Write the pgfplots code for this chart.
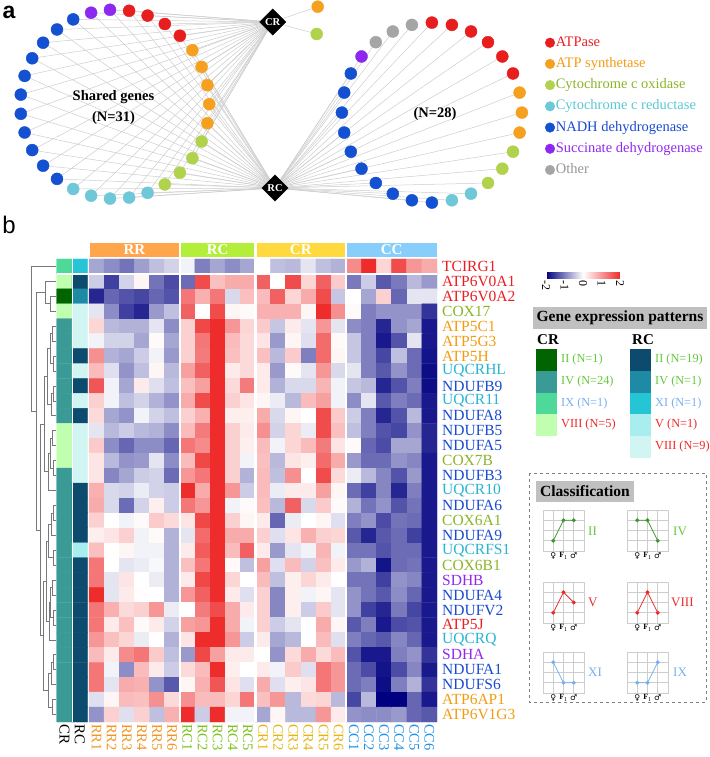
\documentclass[border=0pt]{standalone}
\usepackage{pgfplots}
\pgfplotsset{compat=1.18}
\usepackage{pgfplotstable}
\usetikzlibrary{calc}
\usepackage{fontspec}
\setmainfont{Liberation Serif}
\newfontfamily\sansf{Liberation Sans}
\newfontfamily\symf{DejaVu Sans}
\newcommand{\fs}[1]{\fontsize{#1}{#1}\selectfont}

% network / category colours
\definecolor{nred}{RGB}{232,30,30}
\definecolor{norange}{RGB}{245,160,30}
\definecolor{ngreen}{RGB}{176,210,76}
\definecolor{ncyan}{RGB}{110,200,215}
\definecolor{nblue}{RGB}{20,80,210}
\definecolor{npurple}{RGB}{140,40,240}
\definecolor{ngray}{RGB}{165,165,165}
\definecolor{edgegray}{RGB}{205,205,205}
\definecolor{tred}{RGB}{235,30,35}
\definecolor{torange}{RGB}{243,156,18}
\definecolor{tgreen}{RGB}{140,180,40}
\definecolor{tcyan}{RGB}{40,180,210}
\definecolor{lcyan}{RGB}{90,200,210}
\definecolor{tblue}{RGB}{25,75,210}
\definecolor{tpurple}{RGB}{145,40,240}
\definecolor{tgray}{RGB}{150,150,150}
% heatmap group colours
\definecolor{hRR}{RGB}{255,166,77}
\definecolor{hRC}{RGB}{179,238,58}
\definecolor{hCR}{RGB}{255,217,61}
\definecolor{hCC}{RGB}{135,206,250}
\definecolor{lRR}{RGB}{243,146,30}
\definecolor{lRC}{RGB}{125,194,30}
\definecolor{lCR}{RGB}{230,180,20}
\definecolor{lCC}{RGB}{30,144,230}
% pattern colours
\definecolor{crII}{RGB}{0,100,0}
\definecolor{crIV}{RGB}{58,154,150}
\definecolor{crIX}{RGB}{78,217,154}
\definecolor{crVIII}{RGB}{193,255,176}
\definecolor{rcII}{RGB}{12,74,110}
\definecolor{rcIV}{RGB}{30,138,165}
\definecolor{rcXI}{RGB}{37,197,213}
\definecolor{rcV}{RGB}{168,238,238}
\definecolor{rcVIII}{RGB}{209,245,243}
\definecolor{pgreen}{RGB}{100,200,60}
\definecolor{mgreen}{RGB}{60,150,45}
\definecolor{pred}{RGB}{240,40,40}
\definecolor{pblue}{RGB}{120,175,240}
\definecolor{boxgray}{RGB}{192,192,192}
\definecolor{gridgray}{RGB}{205,205,205}
\definecolor{dendro}{RGB}{120,120,120}

% nodes of the network (panel a)
\pgfplotstableread{
x y c
209.3 104.2 o
207.4 85.2 o
201.6 66.9 o
192.4 50.2 o
179.9 35.7 r
164.8 24.0 r
147.6 15.6 r
129.1 10.8 r
110.0 9.8 p
91.1 12.7 p
73.2 19.4 b
57.0 29.5 b
43.1 42.7 b
32.2 58.3 b
24.6 75.9 b
20.8 94.6 b
20.8 113.8 b
24.6 132.5 b
32.2 150.1 b
43.1 165.7 b
57.0 178.9 b
73.2 189.0 c
91.1 195.7 c
110.0 198.6 c
129.1 197.6 c
147.6 192.8 c
164.8 184.4 g
179.9 172.7 g
192.4 158.2 g
201.6 141.5 g
207.4 123.2 o
}\leftnodes

\pgfplotstableread{
x y c
521.9 112.6 o
519.6 92.6 o
513.0 73.5 r
502.3 56.5 r
488.0 42.2 r
471.0 31.5 r
451.9 24.9 r
431.9 22.6 r
411.9 24.9 k
392.8 31.5 k
375.8 42.2 k
361.5 56.5 p
350.8 73.5 b
344.2 92.6 b
341.9 112.6 b
344.2 132.6 b
350.8 151.7 b
361.5 168.7 b
375.8 183.0 b
392.8 193.7 b
411.9 200.3 b
431.9 202.6 b
451.9 200.3 c
471.0 193.7 c
488.0 183.0 g
502.3 168.7 g
513.0 151.7 g
519.6 132.6 o
}\rightnodes

\pgfplotstableread{
x y c
317.7 6.7 o
316.7 34.0 g
}\crnodes

\pgfplotstableread{
x y lab
272.7 22 CR
275 188 RC
}\hubs

\pgfplotsset{
  netclasses/.style={scatter/classes={
    r={mark=*,draw=nred,fill=nred},
    o={mark=*,draw=norange,fill=norange},
    g={mark=*,draw=ngreen,fill=ngreen},
    c={mark=*,draw=ncyan,fill=ncyan},
    b={mark=*,draw=nblue,fill=nblue},
    p={mark=*,draw=npurple,fill=npurple},
    k={mark=*,draw=ngray,fill=ngray}}},
  mini/.style={scale only axis, width=41pt, height=41pt, anchor=south west,
    xmin=0, xmax=4, ymin=0, ymax=4,
    xtick={0,1,2,3,4}, ytick={0,1,2,3,4}, yticklabels={},
    xticklabels={,{\symf\fs{8}♀},{\fs{8}\textbf{F}\textsubscript{1}},{\symf\fs{8}♂},},
    xticklabel style={inner sep=1.5pt},
    grid=major, grid style={draw=gridgray, line width=0.6pt},
    axis line style={draw=gridgray, line width=0.6pt},
    major tick length=0pt},
  miniline/.style={line width=0.8pt, mark=*, mark size=1.6pt},
}

\begin{document}
\begin{tikzpicture}[x=1pt,y=1pt]
\useasboundingbox (0,0) rectangle (709,757);

% ---------------- panel a : network ----------------
\begin{axis}[at={(0pt,757pt)}, anchor=north west, scale only axis,
  width=709pt, height=215pt, xmin=0, xmax=709, ymin=0, ymax=215,
  y dir=reverse, hide axis, clip=false,
  legend style={at={(0.7687,0.837)}, anchor=north west, draw=none, fill=none,
    inner sep=0pt, row sep=6.2pt, font=\fs{14.5},
    nodes={inner sep=1pt, text height=10pt, text depth=3pt}},
  legend cell align=left,
  legend image code/.code={\draw[mark repeat=2,mark phase=2,#1]
    plot coordinates {(0pt,0pt) (5pt,0pt) (10pt,0pt)};}]
\addlegendimage{only marks, mark=*, mark size=4.8pt, nred}
\addlegendentry{\textcolor{tred}{ATPase}}
\addlegendimage{only marks, mark=*, mark size=4.8pt, norange}
\addlegendentry{\textcolor{torange}{ATP synthetase}}
\addlegendimage{only marks, mark=*, mark size=4.8pt, ngreen}
\addlegendentry{\textcolor{tgreen}{Cytochrome c oxidase}}
\addlegendimage{only marks, mark=*, mark size=4.8pt, ncyan}
\addlegendentry{\textcolor{lcyan}{Cytochrome c reductase}}
\addlegendimage{only marks, mark=*, mark size=4.8pt, nblue}
\addlegendentry{\textcolor{tblue}{NADH dehydrogenase}}
\addlegendimage{only marks, mark=*, mark size=4.8pt, npurple}
\addlegendentry{\textcolor{tpurple}{Succinate dehydrogenase}}
\addlegendimage{only marks, mark=*, mark size=4.8pt, ngray}
\addlegendentry{\textcolor{tgray}{Other}}

% edges
\addplot[forget plot, edgegray, line width=0.5pt,
  quiver={u=272.7-\thisrow{x}, v=22-\thisrow{y}}] table {\leftnodes};
\addplot[forget plot, edgegray, line width=0.5pt,
  quiver={u=275-\thisrow{x}, v=188-\thisrow{y}}] table {\leftnodes};
\addplot[forget plot, edgegray, line width=0.5pt,
  quiver={u=275-\thisrow{x}, v=188-\thisrow{y}}] table {\rightnodes};
\addplot[forget plot, edgegray, line width=0.5pt,
  quiver={u=272.7-\thisrow{x}, v=22-\thisrow{y}}] table {\crnodes};
% nodes
\addplot[forget plot, scatter, only marks, mark size=6pt, netclasses,
  scatter src=explicit symbolic] table[meta=c] {\leftnodes};
\addplot[forget plot, scatter, only marks, mark size=6pt, netclasses,
  scatter src=explicit symbolic] table[meta=c] {\rightnodes};
\addplot[forget plot, scatter, only marks, mark size=6pt, netclasses,
  scatter src=explicit symbolic] table[meta=c] {\crnodes};
% hubs
\addplot[forget plot, only marks, mark=square*, mark size=9.3pt, black,
  every mark/.append style={rotate=45},
  point meta=explicit symbolic, nodes near coords,
  every node near coord/.append style={anchor=center, text=white,
    font=\bfseries\fs{10.5}}] table[meta=lab] {\hubs};

\node[font=\bfseries\fontsize{14.5}{21}\selectfont, align=center]
  at (axis cs:113.5,107.5) {Shared genes\\(N=31)};
\node[font=\bfseries\fs{14.5}] at (axis cs:435,114) {(N=28)};
\end{axis}

\node[font=\sansf\bfseries\fs{23}] at (9,745) {a};
\node[font=\sansf\fs{24}] at (9,532) {b};

% ---------------- panel b : dendrogram ----------------
\begin{axis}[at={(29pt,35pt)}, anchor=south west, scale only axis,
  width=28pt, height=463pt, xmin=29, xmax=57, ymin=0.5, ymax=31.5,
  y dir=reverse, hide axis, clip=false, unbounded coords=jump]
\addplot[dendro, line width=0.7pt] coordinates {
(56,1)(31,1)(31,10.695)(36,10.695) (56,nan)
(45,2.75)(36,2.75)(36,18.64)(40,18.64) (56,nan)
(56,2)(45,2)(45,3.5)(50,3.5) (56,nan)
(56,3)(50,3)(50,4)(56,4) (56,nan)
(44,11.5625)(40,11.5625)(40,25.719)(43,25.719) (56,nan)
(47,8.375)(44,8.375)(44,14.75)(48,14.75) (56,nan)
(50,6.5)(47,6.5)(47,10.25)(51,10.25) (56,nan)
(52,5.5)(50,5.5)(50,7.5)(53,7.5) (56,nan)
(56,5)(52,5)(52,6)(56,6) (56,nan)
(56,7)(53,7)(53,8)(56,8) (56,nan)
(53,9.5)(51,9.5)(51,11)(56,11) (56,nan)
(56,9)(53,9)(53,10)(56,10) (56,nan)
(50,13.5)(48,13.5)(48,16)(56,16) (56,nan)
(52,12.5)(50,12.5)(50,14.5)(53,14.5) (56,nan)
(56,12)(52,12)(52,13)(56,13) (56,nan)
(56,14)(53,14)(53,15)(56,15) (56,nan)
(46,22.0625)(43,22.0625)(43,29.375)(48,29.375) (56,nan)
(48,19.375)(46,19.375)(46,24.75)(49,24.75) (56,nan)
(51,18.25)(48,18.25)(48,20.5)(53,20.5) (56,nan)
(53,17.5)(51,17.5)(51,19)(56,19) (56,nan)
(56,17)(53,17)(53,18)(56,18) (56,nan)
(56,20)(53,20)(53,21)(56,21) (56,nan)
(50,23.5)(49,23.5)(49,26)(56,26) (56,nan)
(52,22.5)(50,22.5)(50,24.5)(53,24.5) (56,nan)
(56,22)(52,22)(52,23)(56,23) (56,nan)
(56,24)(53,24)(53,25)(56,25) (56,nan)
(51,28.25)(48,28.25)(48,30.5)(52,30.5) (56,nan)
(53,27.5)(51,27.5)(51,29)(56,29) (56,nan)
(56,27)(53,27)(53,28)(56,28) (56,nan)
(56,30)(52,30)(52,31)(56,31)
};
\end{axis}

% ---------------- annotation columns ----------------
\begin{axis}[at={(56.7pt,35pt)}, anchor=south west, scale only axis,
  width=30.8pt, height=463pt, xmin=0.5, xmax=2.5, ymin=0.5, ymax=31.5,
  y dir=reverse, clip=false, axis line style={draw=none}, major tick length=0pt,
  xtick={1,2}, xticklabels={CR,RC}, ytick=\empty,
  xticklabel style={rotate=-90, anchor=west, inner sep=2pt, font=\fs{15}},
  colormap={annot}{rgb255(0cm)=(0,100,0); rgb255(1cm)=(58,154,150);
    rgb255(2cm)=(78,217,154); rgb255(3cm)=(193,255,176); rgb255(4cm)=(12,74,110);
    rgb255(5cm)=(30,138,165); rgb255(6cm)=(37,197,213); rgb255(7cm)=(168,238,238);
    rgb255(8cm)=(209,245,243)},
  point meta min=0, point meta max=8]
\addplot[matrix plot*, mesh/cols=2, point meta=explicit] coordinates {
(1,1)[2] (2,1)[6]
(1,2)[3] (2,2)[4]
(1,3)[0] (2,3)[5]
(1,4)[3] (2,4)[8]
(1,5)[1] (2,5)[8]
(1,6)[1] (2,6)[8]
(1,7)[1] (2,7)[4]
(1,8)[1] (2,8)[8]
(1,9)[1] (2,9)[4]
(1,10)[1] (2,10)[8]
(1,11)[1] (2,11)[4]
(1,12)[3] (2,12)[8]
(1,13)[3] (2,13)[8]
(1,14)[3] (2,14)[8]
(1,15)[1] (2,15)[8]
(1,16)[1] (2,16)[4]
(1,17)[1] (2,17)[4]
(1,18)[1] (2,18)[4]
(1,19)[1] (2,19)[4]
(1,20)[1] (2,20)[7]
(1,21)[1] (2,21)[4]
(1,22)[1] (2,22)[4]
(1,23)[1] (2,23)[4]
(1,24)[1] (2,24)[4]
(1,25)[1] (2,25)[4]
(1,26)[1] (2,26)[4]
(1,27)[1] (2,27)[4]
(1,28)[1] (2,28)[4]
(1,29)[1] (2,29)[4]
(1,30)[1] (2,30)[4]
(1,31)[1] (2,31)[4]
};
\draw[white, line width=1pt] (axis cs:1.5,0.5) -- (axis cs:1.5,31.5);
\draw[white, line width=2pt] (axis cs:0.5,1.5) -- (axis cs:2.5,1.5);
\end{axis}

% ---------------- heatmap ----------------
\begin{axis}[at={(89pt,35pt)}, anchor=south west, scale only axis,
  width=348pt, height=463pt, xmin=0.5, xmax=23.5, ymin=0.5, ymax=31.5,
  y dir=reverse, clip=false, axis line style={draw=none}, major tick length=0pt,
  xtick={1,...,23}, ytick={1,...,31},
  xticklabels={\textcolor{lRR}{RR1},\textcolor{lRR}{RR2},\textcolor{lRR}{RR3},
    \textcolor{lRR}{RR4},\textcolor{lRR}{RR5},\textcolor{lRR}{RR6},
    \textcolor{lRC}{RC1},\textcolor{lRC}{RC2},\textcolor{lRC}{RC3},
    \textcolor{lRC}{RC4},\textcolor{lRC}{RC5},
    \textcolor{lCR}{CR1},\textcolor{lCR}{CR2},\textcolor{lCR}{CR3},
    \textcolor{lCR}{CR4},\textcolor{lCR}{CR5},\textcolor{lCR}{CR6},
    \textcolor{lCC}{CC1},\textcolor{lCC}{CC2},\textcolor{lCC}{CC3},
    \textcolor{lCC}{CC4},\textcolor{lCC}{CC5},\textcolor{lCC}{CC6}},
  yticklabels={\textcolor{tred}{TCIRG1},\textcolor{tred}{ATP6V0A1},
    \textcolor{tred}{ATP6V0A2},\textcolor{tgreen}{COX17},\textcolor{torange}{ATP5C1},
    \textcolor{torange}{ATP5G3},\textcolor{torange}{ATP5H},\textcolor{tcyan}{UQCRHL},
    \textcolor{tblue}{NDUFB9},\textcolor{tcyan}{UQCR11},\textcolor{tblue}{NDUFA8},
    \textcolor{tblue}{NDUFB5},\textcolor{tblue}{NDUFA5},\textcolor{tgreen}{COX7B},
    \textcolor{tblue}{NDUFB3},\textcolor{tcyan}{UQCR10},\textcolor{tblue}{NDUFA6},
    \textcolor{tgreen}{COX6A1},\textcolor{tblue}{NDUFA9},\textcolor{tcyan}{UQCRFS1},
    \textcolor{tgreen}{COX6B1},\textcolor{tpurple}{SDHB},\textcolor{tblue}{NDUFA4},
    \textcolor{tblue}{NDUFV2},\textcolor{tred}{ATP5J},\textcolor{tcyan}{UQCRQ},
    \textcolor{tpurple}{SDHA},\textcolor{tblue}{NDUFA1},\textcolor{tblue}{NDUFS6},
    \textcolor{torange}{ATP6AP1},\textcolor{torange}{ATP6V1G3}},
  xticklabel style={rotate=-90, anchor=west, inner sep=2pt, font=\fs{14.5}},
  yticklabel pos=right,
  yticklabel style={anchor=west, inner sep=0pt, xshift=5pt, font=\fs{15.5}},
  colormap={hm}{rgb255(0cm)=(0,0,128); rgb255(1cm)=(255,255,255); rgb255(2cm)=(238,44,44)},
  point meta min=-2, point meta max=2,
  colorbar horizontal,
  colorbar style={at={($(parent axis.north east)+(109pt,-5pt)$)},
    anchor=north west, scale only axis, width=74pt, height=6pt,
    xtick={-2,-1,0,1,2}, xticklabels={-2,-1,0,1,2}, ytick=\empty,
    xticklabel style={rotate=-90, anchor=west, inner sep=1.5pt, font=\fs{12}},
    axis line style={draw=none}, major tick length=0pt}]
\addplot[matrix plot*, mesh/cols=23, point meta=explicit] coordinates {
(1,1)[-0.7] (2,1)[-0.9] (3,1)[-1.1] (4,1)[-0.75] (5,1)[-0.5] (6,1)[-0.35] (7,1)[-0.1] (8,1)[-1] (9,1)[-0.7] (10,1)[-0.9] (11,1)[-0.7] (12,1)[0] (13,1)[-0.5] (14,1)[-0.55] (15,1)[-0.2] (16,1)[-0.5] (17,1)[-0.6] (18,1)[1.1] (19,1)[2] (20,1)[0.4] (21,1)[1.7] (22,1)[1] (23,1)[0.8]
(1,2)[-0.4] (2,2)[-1.5] (3,2)[-0.35] (4,2)[0.1] (5,2)[-1.1] (6,2)[-1.4] (7,2)[-1.15] (8,2)[1.7] (9,2)[0.6] (10,2)[0.8] (11,2)[0.8] (12,2)[1.5] (13,2)[0] (14,2)[1.7] (15,2)[0.4] (16,2)[1.5] (17,2)[0.5] (18,2)[-1.05] (19,2)[-0.4] (20,2)[-1.3] (21,2)[-1.05] (22,2)[-0.55] (23,2)[-0.8]
(1,3)[-1.7] (2,3)[-1.2] (3,3)[-1.35] (4,3)[-1.45] (5,3)[-1.2] (6,3)[-1.35] (7,3)[1.3] (8,3)[0.75] (9,3)[1.3] (10,3)[-0.3] (11,3)[0.6] (12,3)[0.65] (13,3)[1.5] (14,3)[0.4] (15,3)[0.8] (16,3)[1.7] (17,3)[-0.45] (18,3)[0] (19,3)[-0.7] (20,3)[0.45] (21,3)[-1.2] (22,3)[-0.2] (23,3)[-0.2]
(1,4)[-0.2] (2,4)[-0.9] (3,4)[-1.5] (4,4)[-1.7] (5,4)[-0.8] (6,4)[-0.5] (7,4)[1.5] (8,4)[0] (9,4)[1.7] (10,4)[0.1] (11,4)[0.05] (12,4)[0.75] (13,4)[0.75] (14,4)[0.75] (15,4)[0.1] (16,4)[2] (17,4)[1.05] (18,4)[0.05] (19,4)[-1] (20,4)[-0.85] (21,4)[-0.85] (22,4)[-0.85] (23,4)[-1.6]
(1,5)[0.4] (2,5)[-0.55] (3,5)[-0.6] (4,5)[-0.6] (5,5)[-0.2] (6,5)[-0.9] (7,5)[0.45] (8,5)[1.75] (9,5)[2] (10,5)[1] (11,5)[0.4] (12,5)[0.5] (13,5)[-0.45] (14,5)[0.2] (15,5)[-0.2] (16,5)[1] (17,5)[-0.2] (18,5)[-0.9] (19,5)[-1] (20,5)[-1.7] (21,5)[-0.85] (22,5)[-0.7] (23,5)[-1.8]
(1,6)[-0.1] (2,6)[-0.35] (3,6)[-0.35] (4,6)[-0.7] (5,6)[0.05] (6,6)[-0.7] (7,6)[0.45] (8,6)[1.3] (9,6)[2] (10,6)[0.65] (11,6)[0.35] (12,6)[0.25] (13,6)[-0.8] (14,6)[0.1] (15,6)[-0.25] (16,6)[1.4] (17,6)[0.05] (18,6)[-0.45] (19,6)[-1] (20,6)[-1.8] (21,6)[-1.35] (22,6)[-0.2] (23,6)[-1.8]
(1,7)[1.05] (2,7)[-0.6] (3,7)[-0.7] (4,7)[-0.4] (5,7)[-0.1] (6,7)[-0.8] (7,7)[0.45] (8,7)[1.25] (9,7)[2] (10,7)[0.6] (11,7)[0.35] (12,7)[0.6] (13,7)[-0.55] (14,7)[0.5] (15,7)[-1] (16,7)[1.4] (17,7)[0.1] (18,7)[-0.45] (19,7)[-1] (20,7)[-1.45] (21,7)[-0.5] (22,7)[-1.15] (23,7)[-1.85]
(1,8)[0.65] (2,8)[-0.25] (3,8)[-0.85] (4,8)[-0.5] (5,8)[0.1] (6,8)[-0.55] (7,8)[0.9] (8,8)[1.5] (9,8)[2] (10,8)[0.2] (11,8)[0.35] (12,8)[0.2] (13,8)[-0.8] (14,8)[0.05] (15,8)[-0.2] (16,8)[1] (17,8)[-0.3] (18,8)[-0.2] (19,8)[-1] (20,8)[-1.3] (21,8)[-0.85] (22,8)[-1.15] (23,8)[-1.9]
(1,9)[1.6] (2,9)[-0.1] (3,9)[-0.7] (4,9)[0.2] (5,9)[-0.25] (6,9)[-0.5] (7,9)[0.6] (8,9)[0.9] (9,9)[2] (10,9)[0.35] (11,9)[1.25] (12,9)[0.2] (13,9)[-0.6] (14,9)[-0.3] (15,9)[-0.3] (16,9)[0.7] (17,9)[-0.1] (18,9)[-0.45] (19,9)[-0.55] (20,9)[-1.7] (21,9)[-1.35] (22,9)[-1] (23,9)[-1.9]
(1,10)[0.45] (2,10)[-0.1] (3,10)[-0.5] (4,10)[-0.35] (5,10)[-0.6] (6,10)[-0.85] (7,10)[0.8] (8,10)[1.7] (9,10)[2] (10,10)[0.45] (11,10)[0.25] (12,10)[0.1] (13,10)[-0.15] (14,10)[-0.55] (15,10)[0.65] (16,10)[0.9] (17,10)[-0.1] (18,10)[-0.9] (19,10)[-0.2] (20,10)[-1.3] (21,10)[-1] (22,10)[-1.15] (23,10)[-1.8]
(1,11)[0.35] (2,11)[-0.7] (3,11)[-0.85] (4,11)[-0.1] (5,11)[-0.35] (6,11)[-0.5] (7,11)[0.45] (8,11)[0.75] (9,11)[2] (10,11)[0.15] (11,11)[0.15] (12,11)[0.8] (13,11)[-0.3] (14,11)[0.1] (15,11)[0] (16,11)[1.7] (17,11)[0.5] (18,11)[-0.4] (19,11)[-1] (20,11)[-1.7] (21,11)[-1.35] (22,11)[-0.55] (23,11)[-1.8]
(1,12)[-0.2] (2,12)[-0.55] (3,12)[-0.4] (4,12)[-0.55] (5,12)[-0.6] (6,12)[-0.9] (7,12)[0.65] (8,12)[1.25] (9,12)[2] (10,12)[0.45] (11,12)[0.2] (12,12)[1.05] (13,12)[-0.35] (14,12)[0.4] (15,12)[-0.15] (16,12)[1.7] (17,12)[0.6] (18,12)[-0.5] (19,12)[-1] (20,12)[-1.35] (21,12)[-1.45] (22,12)[-0.85] (23,12)[-1.7]
(1,13)[0.5] (2,13)[-0.9] (3,13)[-1.2] (4,13)[-0.9] (5,13)[-0.9] (6,13)[-1.2] (7,13)[1.3] (8,13)[1.1] (9,13)[2] (10,13)[0.45] (11,13)[0.15] (12,13)[0.65] (13,13)[-0.1] (14,13)[0.4] (15,13)[0.65] (16,13)[1.25] (17,13)[0.25] (18,13)[0.05] (19,13)[-1.2] (20,13)[-1.4] (21,13)[-0.7] (22,13)[-0.7] (23,13)[-1.7]
(1,14)[0.25] (2,14)[-0.55] (3,14)[-0.85] (4,14)[-0.8] (5,14)[-0.2] (6,14)[-0.9] (7,14)[0.65] (8,14)[1.75] (9,14)[2] (10,14)[0.45] (11,14)[-0.1] (12,14)[0.6] (13,14)[-0.55] (14,14)[0.25] (15,14)[0.15] (16,14)[1.4] (17,14)[0.8] (18,14)[-0.8] (19,14)[-1.15] (20,14)[-1.15] (21,14)[-0.85] (22,14)[-0.95] (23,14)[-1.8]
(1,15)[0.25] (2,15)[-0.95] (3,15)[-0.7] (4,15)[-0.4] (5,15)[-0.35] (6,15)[-1.15] (7,15)[1] (8,15)[1.3] (9,15)[2] (10,15)[0.45] (11,15)[-0.6] (12,15)[0.65] (13,15)[-0.5] (14,15)[1.05] (15,15)[0] (16,15)[1.7] (17,15)[0.35] (18,15)[-0.15] (19,15)[-0.55] (20,15)[-0.95] (21,15)[-1.35] (22,15)[-0.8] (23,15)[-1.8]
(1,16)[0.75] (2,16)[-0.3] (3,16)[-0.35] (4,16)[-0.15] (5,16)[-0.35] (6,16)[-0.4] (7,16)[2] (8,16)[0.8] (9,16)[2] (10,16)[1] (11,16)[-0.4] (12,16)[0.65] (13,16)[-0.15] (14,16)[0.2] (15,16)[0.2] (16,16)[0.9] (17,16)[0.1] (18,16)[-1.15] (19,16)[-1.5] (20,16)[-0.95] (21,16)[-1.7] (22,16)[-1] (23,16)[-1.8]
(1,17)[0.8] (2,17)[-0.3] (3,17)[-1.15] (4,17)[-0.35] (5,17)[0.15] (6,17)[-0.4] (7,17)[1.3] (8,17)[1] (9,17)[2] (10,17)[-0.1] (11,17)[0.05] (12,17)[0.6] (13,17)[-0.55] (14,17)[1.5] (15,17)[-0.3] (16,17)[0.5] (17,17)[0.05] (18,17)[-0.6] (19,17)[-1.1] (20,17)[-0.85] (21,17)[-1.35] (22,17)[-1.1] (23,17)[-1.8]
(1,18)[0.45] (2,18)[0] (3,18)[-0.1] (4,18)[0.05] (5,18)[0.5] (6,18)[0.35] (7,18)[0.25] (8,18)[1.75] (9,18)[2] (10,18)[0.45] (11,18)[0.1] (12,18)[0.2] (13,18)[-1.2] (14,18)[-0.15] (15,18)[0] (16,18)[0.1] (17,18)[-0.25] (18,18)[-1] (19,18)[-0.85] (20,18)[-1.4] (21,18)[-1.1] (22,18)[-1.15] (23,18)[-1.8]
(1,19)[0.15] (2,19)[0.25] (3,19)[0.45] (4,19)[-0.1] (5,19)[0.05] (6,19)[-0.6] (7,19)[-0.2] (8,19)[1.4] (9,19)[2] (10,19)[0.8] (11,19)[0.8] (12,19)[0.45] (13,19)[-0.25] (14,19)[0.25] (15,19)[0.75] (16,19)[0.45] (17,19)[0.4] (18,19)[-1.3] (19,19)[-1.7] (20,19)[-1.3] (21,19)[-1.15] (22,19)[-1.5] (23,19)[-1.8]
(1,20)[0.6] (2,20)[0] (3,20)[0.1] (4,20)[-0.1] (5,20)[-0.1] (6,20)[-0.6] (7,20)[0.2] (8,20)[1.55] (9,20)[2] (10,20)[0.65] (11,20)[1.5] (12,20)[0.2] (13,20)[-0.8] (14,20)[-0.2] (15,20)[-0.1] (16,20)[0.7] (17,20)[-0.1] (18,20)[-1.1] (19,20)[-1.1] (20,20)[-1.35] (21,20)[-1.15] (22,20)[-1.15] (23,20)[-1.8]
(1,21)[1.3] (2,21)[0] (3,21)[-0.2] (4,21)[-0.15] (5,21)[-0.05] (6,21)[-0.6] (7,21)[0.6] (8,21)[1.3] (9,21)[2] (10,21)[0.05] (11,21)[-0.5] (12,21)[0.9] (13,21)[-0.25] (14,21)[0.65] (15,21)[-0.35] (16,21)[0.6] (17,21)[0.2] (18,21)[-0.8] (19,21)[-0.6] (20,21)[-1.85] (21,21)[-1.15] (22,21)[-1.1] (23,21)[-1.8]
(1,22)[1.3] (2,22)[-0.2] (3,22)[0.25] (4,22)[0] (5,22)[-0.15] (6,22)[-0.6] (7,22)[0.2] (8,22)[1.75] (9,22)[2] (10,22)[0.4] (11,22)[0] (12,22)[0.65] (13,22)[-0.5] (14,22)[0.15] (15,22)[0.4] (16,22)[0.2] (17,22)[0] (18,22)[-1.1] (19,22)[-1.1] (20,22)[-1.5] (21,22)[-0.85] (22,22)[-0.95] (23,22)[-1.8]
(1,23)[2] (2,23)[-0.2] (3,23)[0.2] (4,23)[0.02] (5,23)[0] (6,23)[-0.6] (7,23)[1] (8,23)[1.5] (9,23)[2] (10,23)[0.2] (11,23)[-0.25] (12,23)[0.45] (13,23)[-0.95] (14,23)[0.15] (15,23)[-0.1] (16,23)[0.1] (17,23)[-0.2] (18,23)[-0.85] (19,23)[-1.1] (20,23)[-1.3] (21,23)[-0.9] (22,23)[-1.2] (23,23)[-1.8]
(1,24)[1.3] (2,24)[0.75] (3,24)[0.35] (4,24)[0.45] (5,24)[1] (6,24)[-0.15] (7,24)[0] (8,24)[1.25] (9,24)[1.7] (10,24)[0.8] (11,24)[0.2] (12,24)[0.45] (13,24)[-0.95] (14,24)[0.15] (15,24)[-0.4] (16,24)[0.5] (17,24)[-0.2] (18,24)[-0.85] (19,24)[-1.5] (20,24)[-1.7] (21,24)[-1.05] (22,24)[-1.45] (23,24)[-1.8]
(1,25)[1.3] (2,25)[0.2] (3,25)[0.6] (4,25)[0.05] (5,25)[0.2] (6,25)[-0.35] (7,25)[0.9] (8,25)[1] (9,25)[2] (10,25)[0.8] (11,25)[-0.1] (12,25)[0.45] (13,25)[-0.4] (14,25)[-0.2] (15,25)[0] (16,25)[0.8] (17,25)[0.1] (18,25)[-1.3] (19,25)[-1] (20,25)[-1.8] (21,25)[-1.4] (22,25)[-1.35] (23,25)[-1.8]
(1,26)[1] (2,26)[0.6] (3,26)[0.4] (4,26)[-0.15] (5,26)[0] (6,26)[-0.6] (7,26)[0.25] (8,26)[2] (9,26)[2] (10,26)[1] (11,26)[-0.4] (12,26)[0.2] (13,26)[-0.7] (14,26)[-0.55] (15,26)[0] (16,26)[0.65] (17,26)[-0.25] (18,26)[-1] (19,26)[-1.2] (20,26)[-1.3] (21,26)[-0.95] (22,26)[-1.2] (23,26)[-1.8]
(1,27)[0.65] (2,27)[0.2] (3,27)[1.1] (4,27)[1.3] (5,27)[0.5] (6,27)[-0.5] (7,27)[-0.8] (8,27)[1.75] (9,27)[0.9] (10,27)[0.2] (11,27)[0.2] (12,27)[0] (13,27)[-0.85] (14,27)[0.35] (15,27)[0.8] (16,27)[0.35] (17,27)[0.65] (18,27)[-1.35] (19,27)[-1.8] (20,27)[-1.8] (21,27)[-1] (22,27)[-0.85] (23,27)[-1.6]
(1,28)[1.3] (2,28)[-0.1] (3,28)[-0.9] (4,28)[0.65] (5,28)[0.2] (6,28)[-0.4] (7,28)[0.35] (8,28)[0.65] (9,28)[2] (10,28)[0.15] (11,28)[0] (12,28)[0.2] (13,28)[-0.1] (14,28)[0.5] (15,28)[-0.25] (16,28)[1.3] (17,28)[1] (18,28)[-1.15] (19,28)[-1.4] (20,28)[-1.85] (21,28)[-1.4] (22,28)[-0.95] (23,28)[-1.8]
(1,29)[1.3] (2,29)[-0.2] (3,29)[0.8] (4,29)[0.75] (5,29)[-0.85] (6,29)[-1.3] (7,29)[0.1] (8,29)[0.75] (9,29)[1.6] (10,29)[0.25] (11,29)[-0.25] (12,29)[0.8] (13,29)[-0.25] (14,29)[0.15] (15,29)[0.25] (16,29)[1.3] (17,29)[1] (18,29)[-1.15] (19,29)[-1] (20,29)[-1.9] (21,29)[-1] (22,29)[-0.6] (23,29)[-1.6]
(1,30)[-0.25] (2,30)[0.1] (3,30)[0.65] (4,30)[0.6] (5,30)[1.05] (6,30)[0.35] (7,30)[1.05] (8,30)[0.65] (9,30)[0.65] (10,30)[0.4] (11,30)[1.3] (12,30)[0.6] (13,30)[1] (14,30)[-0.55] (15,30)[0.35] (16,30)[0.4] (17,30)[-0.55] (18,30)[-1.45] (19,30)[-0.55] (20,30)[-2] (21,30)[-2] (22,30)[-1.2] (23,30)[-1.8]
(1,31)[-0.85] (2,31)[0.45] (3,31)[-0.25] (4,31)[0.45] (5,31)[-0.5] (6,31)[0.75] (7,31)[2] (8,31)[-0.4] (9,31)[2] (10,31)[-0.1] (11,31)[-0.1] (12,31)[-0.7] (13,31)[0.1] (14,31)[-0.55] (15,31)[-0.55] (16,31)[1] (17,31)[0.2] (18,31)[-0.85] (19,31)[-0.9] (20,31)[-0.9] (21,31)[-0.8] (22,31)[-1.2] (23,31)[-1.3]
};
% group separators
\draw[white, line width=2.4pt] (axis cs:6.5,0.5) -- (axis cs:6.5,31.5);
\draw[white, line width=2.4pt] (axis cs:11.5,0.5) -- (axis cs:11.5,31.5);
\draw[white, line width=2.4pt] (axis cs:17.5,0.5) -- (axis cs:17.5,31.5);
\draw[white, line width=2pt] (axis cs:0.5,1.5) -- (axis cs:23.5,1.5);
% group header bars
\fill[hRR] (axis cs:0.58,-0.57) rectangle (axis cs:6.42,0.37);
\fill[hRC] (axis cs:6.58,-0.57) rectangle (axis cs:11.42,0.37);
\fill[hCR] (axis cs:11.58,-0.57) rectangle (axis cs:17.42,0.37);
\fill[hCC] (axis cs:17.58,-0.57) rectangle (axis cs:23.5,0.37);
\node[white, font=\bfseries\fs{15}] at (axis cs:3.5,-0.1) {RR};
\node[white, font=\bfseries\fs{15}] at (axis cs:9,-0.1) {RC};
\node[white, font=\bfseries\fs{15}] at (axis cs:14.5,-0.1) {CR};
\node[white, font=\bfseries\fs{15}] at (axis cs:20.5,-0.1) {CC};
\end{axis}

% ---------------- gene expression pattern legend ----------------
\fill[boxgray] (533,450) rectangle (707,428);
\node[font=\bfseries\fs{15.5}] at (620,439) {Gene expression patterns};
\node[font=\bfseries\fs{15}, anchor=west, inner sep=0pt] at (537,417) {CR};
\node[font=\bfseries\fs{15}, anchor=west, inner sep=0pt] at (632,417) {RC};
\fill[crII] (536,408) rectangle (557,386);
\fill[crIV] (536,386) rectangle (557,364);
\fill[crIX] (536,364) rectangle (557,343);
\fill[crVIII] (536,343) rectangle (557,321);
\fill[rcII] (630,408) rectangle (651,386);
\fill[rcIV] (630,386) rectangle (651,364);
\fill[rcXI] (630,364) rectangle (651,343);
\fill[rcV] (630,343) rectangle (651,321);
\fill[rcVIII] (630,321) rectangle (651,299);
\begin{scope}[every node/.style={anchor=west, inner sep=0pt, font=\fs{12.3}}]
\node[text=pgreen] at (561,397) {II (N=1)};
\node[text=pgreen] at (561,375) {IV (N=24)};
\node[text=pblue] at (561,353.5) {IX (N=1)};
\node[text=pred] at (561,332) {VIII (N=5)};
\node[text=pgreen] at (655,397) {II (N=19)};
\node[text=pgreen] at (655,375) {IV (N=1)};
\node[text=pblue] at (655,353.5) {XI (N=1)};
\node[text=pred] at (655,332) {V (N=1)};
\node[text=pred] at (655,310) {VIII (N=9)};
\end{scope}

% ---------------- classification box ----------------
\draw[gray, dashed, line width=0.7pt] (529,284) rectangle (706,55);
\fill[boxgray] (536,276) rectangle (634,255);
\node[font=\bfseries\fs{15.5}] at (585,265.5) {Classification};

\begin{axis}[mini, at={(543pt,206pt)}]
\addplot[miniline, mgreen] coordinates {(1,1) (2,3) (3,3)};
\end{axis}
\begin{axis}[mini, at={(627pt,206pt)}]
\addplot[miniline, mgreen] coordinates {(1,3) (2,3) (3,1)};
\end{axis}
\begin{axis}[mini, at={(543pt,134pt)}]
\addplot[miniline, pred] coordinates {(1,1) (2,3) (3,2)};
\end{axis}
\begin{axis}[mini, at={(627pt,134pt)}]
\addplot[miniline, pred] coordinates {(1,1) (2,3) (3,1)};
\end{axis}
\begin{axis}[mini, at={(543pt,64pt)}]
\addplot[miniline, pblue] coordinates {(1,3) (2,1) (3,1)};
\end{axis}
\begin{axis}[mini, at={(627pt,64pt)}]
\addplot[miniline, pblue] coordinates {(1,1) (2,1) (3,3)};
\end{axis}
\begin{scope}[every node/.style={anchor=west, inner sep=0pt, font=\fs{13}}]
\node[text=pgreen] at (588,226) {II};
\node[text=pgreen] at (673,226) {IV};
\node[text=pred] at (588,154.3) {V};
\node[text=pred] at (671,154.3) {VIII};
\node[text=pblue] at (588,85) {XI};
\node[text=pblue] at (673,85) {IX};
\end{scope}
\end{tikzpicture}
\end{document}
